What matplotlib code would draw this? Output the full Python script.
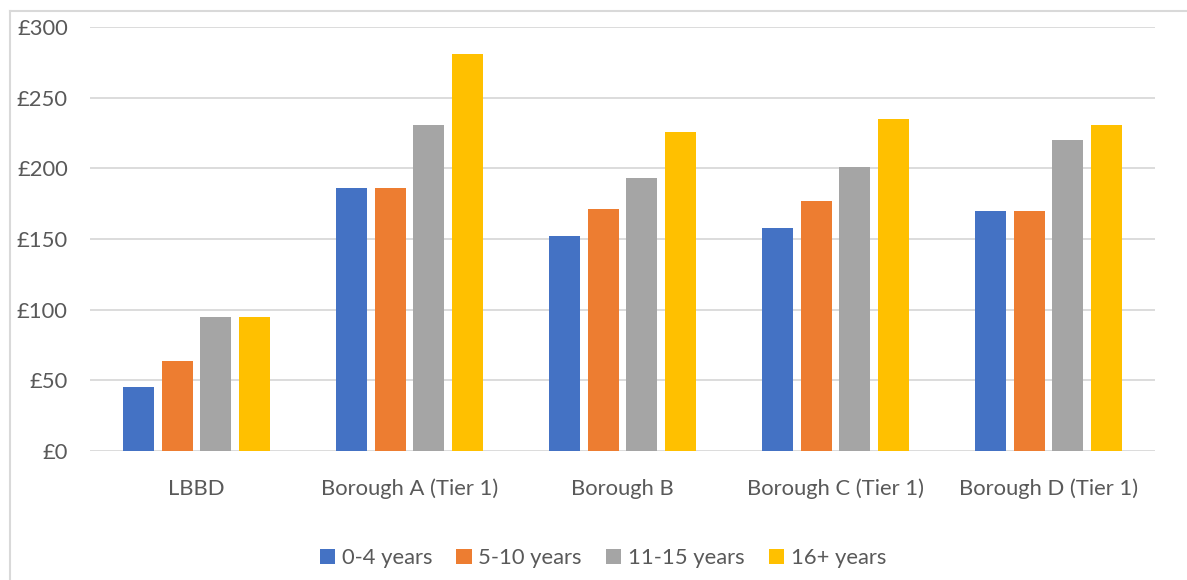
import matplotlib
matplotlib.use("Agg")
import matplotlib.pyplot as plt
from matplotlib.lines import Line2D
from matplotlib.patches import Patch
from matplotlib.ticker import FuncFormatter
import numpy as np

# Data
categories = ["LBBD", "Borough A (Tier 1)", "Borough B", "Borough C (Tier 1)", "Borough D (Tier 1)"]
series_names = ["0-4 years", "5-10 years", "11-15 years", "16+ years"]
years_0_4 = [45, 186, 152, 158, 170]
years_5_10 = [64, 186, 171, 177, 170]
years_11_15 = [95, 231, 193, 201, 220]
years_16_plus = [95, 281, 226, 235, 231]
series_values = [years_0_4, years_5_10, years_11_15, years_16_plus]
colors = ["#4472C4", "#ED7D31", "#A5A5A5", "#FFC000"]

text_color = "#595959"
grid_color = "#D9D9D9"
font = "Lato"
fsize = 15.8

W, H = 1187, 580
fig = plt.figure(figsize=(W / 100, H / 100), dpi=100)
ax = fig.add_axes([90 / W, 1 - 451 / H, (1155 - 90) / W, (451 - 27) / H])

x = np.arange(len(categories))
width = 0.146
step = 0.182
for i, (name, vals) in enumerate(zip(series_names, series_values)):
    offset = (i - 1.5) * step
    ax.bar(x + offset, vals, width, color=colors[i], label=name, zorder=3)

ax.set_xlim(-0.5, len(categories) - 0.5)
ax.set_ylim(0, 300)
ax.set_yticks(range(0, 301, 50))
ax.yaxis.set_major_formatter(FuncFormatter(lambda v, p: f"£{int(v)}"))
ax.set_xticks(x)
ax.set_xticklabels(categories)
ax.grid(axis="y", color=grid_color, linewidth=1.3, zorder=0)
for s in ax.spines.values():
    s.set_visible(False)
ax.tick_params(axis="both", length=0, labelsize=fsize, labelcolor=text_color)
ax.tick_params(axis="x", pad=20)
ax.tick_params(axis="y", pad=16)
for lab in ax.get_xticklabels() + ax.get_yticklabels():
    lab.set_fontfamily(font)

# chart border (top and left edges only are visible)
fig.add_artist(Line2D([10 / W, 1], [1 - 11 / H] * 2, color=grid_color, linewidth=1.5))
fig.add_artist(Line2D([10 / W] * 2, [0, 1 - 11 / H], color=grid_color, linewidth=1.5))

handles = [Patch(facecolor=c) for c in colors]
fig.legend(handles, series_names, loc="center", bbox_to_anchor=(603 / W, 1 - 558 / H),
           ncol=4, frameon=False, handlelength=0.7, handleheight=0.7,
           handletextpad=0.3, columnspacing=1.1,
           prop={"family": font, "size": fsize}, labelcolor=text_color)

fig.savefig("out.png", dpi=100)
